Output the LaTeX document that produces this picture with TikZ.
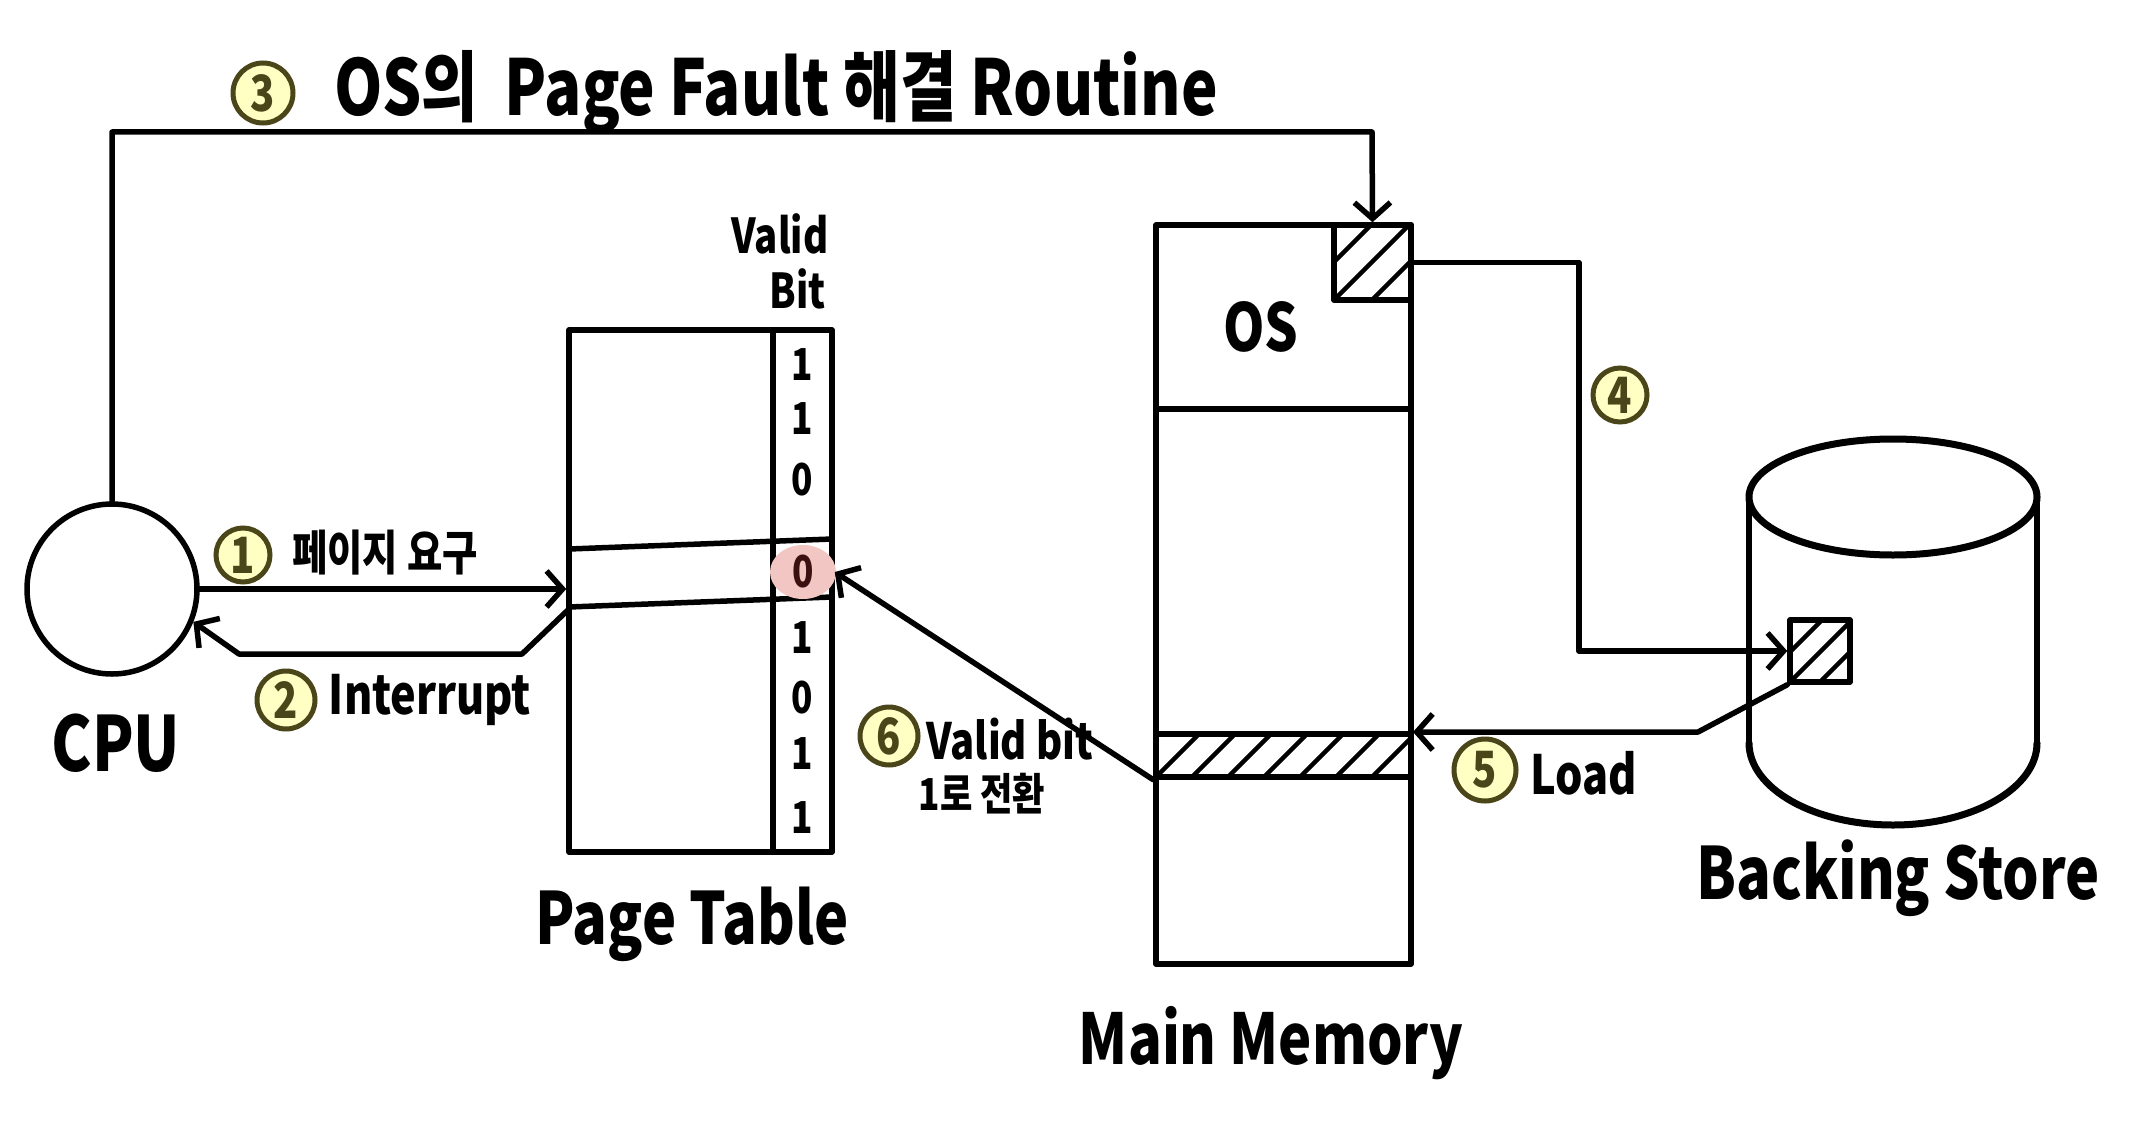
\documentclass[tikz,border=0pt]{standalone}
\usepackage{fontspec}
\setmainfont{Noto Sans CJK KR}[FakeStretch=0.8]
\usetikzlibrary{arrows.meta,calc}
\definecolor{numdark}{HTML}{4B4619}
\definecolor{numfill}{HTML}{FFFFC4}
\definecolor{hlpink}{HTML}{F2C6C2}
\definecolor{hltext}{HTML}{3A1010}
\begin{document}
\begin{tikzpicture}[x=1pt,y=-1pt,
  ln/.style={line width=5.5pt, line cap=round, line join=round},
  arr/.style={ln, -{Straight Barb[length=16pt,width=36pt,line width=5.5pt]}},
  hatch/.style={line width=4.5pt},
  numc/.style={circle, fill=numfill, draw=numdark, line width=5pt, text=numdark,
    font=\fontsize{50}{50}\selectfont\bfseries, inner sep=0pt, minimum size=#1},
  lbl/.style={font=\fontsize{#1}{#1}\selectfont\bfseries, inner sep=0pt},
  box/.style={draw, ln, inner sep=0pt}
]
\useasboundingbox (0,0) rectangle (2138,1145);

% ---- CPU
\node[circle, box, minimum size=170pt] (cpu) at (112,589) {};
\node[lbl=76] (cpulbl) at (116,743) {CPU};

% ---- Page table
\node[box, minimum width=263pt, minimum height=522pt] (pt) at (700.5,591) {};
\draw[ln] (773,330) -- (773,852);
\draw[ln] (569,549) -- (832,539);
\draw[ln] (569,607) -- (832,597);
\fill[hlpink] (803,572) ellipse [x radius=33, y radius=27];
\node[lbl=44] (v1) at (802,365) {1};
\node[lbl=44] (v2) at (802,419) {1};
\node[lbl=44] (v3) at (802,480) {0};
\node[lbl=44, text=hltext] (hl) at (803,572) {0};
\node[lbl=44] (v5) at (802,638) {1};
\node[lbl=44] (v6) at (802,698) {0};
\node[lbl=44] (v7) at (802,754) {1};
\node[lbl=44] (v8) at (802,818) {1};
\node[lbl=48] (valid) at (780,234) {Valid};
\node[lbl=48] (bit) at (798,289) {Bit};
\node[lbl=72] (ptlbl) at (692,924) {Page Table};

% ---- Main memory
\node[box, minimum width=255pt, minimum height=739pt] (mm) at (1283.5,594.5) {};
\draw[ln] (1156,409) -- (1411,409);
\node[box, minimum width=77pt, minimum height=75pt] (osbox) at (1372.5,262.5) {};
\begin{scope}
  \clip (osbox.south west) rectangle (osbox.north east);
  \foreach \d in {-38,0,38} \draw[hatch] (1334+\d,300) -- (1334+\d+75,225);
\end{scope}
\node[box, minimum width=255pt, minimum height=43pt] (bar) at (1283.5,755.5) {};
\begin{scope}
  \clip (bar.south west) rectangle (bar.north east);
  \foreach \d in {0,36,...,260} \draw[hatch] (1156+\d,777) -- (1156+\d+43,734);
\end{scope}
\node[lbl=66] (oslbl) at (1261,327) {OS};
\node[lbl=70] (mmlbl) at (1271,1043) {Main Memory};

% ---- Backing store
\draw[line width=7pt] (1893,497) ellipse [x radius=144, y radius=58];
\draw[ln] (1749,497) -- (1749,743);
\draw[ln] (2037,497) -- (2037,743);
\draw[line width=7pt, line cap=round] (1749,743) arc[start angle=180, end angle=0, x radius=144, y radius=82];
\node[box, minimum width=60pt, minimum height=62pt] (bsbox) at (1820,651) {};
\begin{scope}
  \clip (bsbox.south west) rectangle (bsbox.north east);
  \foreach \d in {-30,0,30} \draw[hatch] (1790+\d,682) -- (1790+\d+62,620);
\end{scope}
\node[lbl=72] (bslbl) at (1898,878) {Backing Store};

% ---- Connectors
\coordinate (top) at (1372,132);
\draw[arr] (cpu.north) |- (top) -- (osbox.north);
\node[numc=60pt] (n3) at (263,93) {3};
\node[lbl=77, anchor=west] (title) at (334,92) {OS의\hspace{26pt}Page Fault 해결 Routine};

\draw[arr] (cpu.east) -- (cpu.east -| pt.west);
\node[numc=54pt] (n1) at (243,555) {1};
\node[lbl=48] (l1) at (385,553) {페이지 요구};

\coordinate (c2a) at (522,654);
\coordinate (c2b) at (239,654);
\draw[arr] (569,609) -- (c2a) -- (c2b) -- (cpu.-22);
\node[numc=58pt] (n2) at (286,700) {2};
\node[lbl=54] (l2) at (430,700) {Interrupt};

\coordinate (c4) at (1579,400);
\draw[arr] (osbox.east) -| (c4) |- (bsbox.west);
\node[numc=54pt] (n4) at (1620,395) {4};

\coordinate (c5) at (1698,732);
\coordinate (mmload) at (1413,732);
\draw[arr] (bsbox.south west) -- (c5) -- (mmload);
\node[numc=62pt] (n5) at (1485,770) {5};
\node[lbl=54] (l5) at (1584,773) {Load};

\draw[arr] (bar.south west) -- (hl -| pt.east);
\node[numc=58pt] (n6) at (889,736) {6};
\node[lbl=50] (l6a) at (1010,739) {Valid bit};
\node[lbl=44] (l6b) at (982,794) {1로 전환};
\end{tikzpicture}
\end{document}
